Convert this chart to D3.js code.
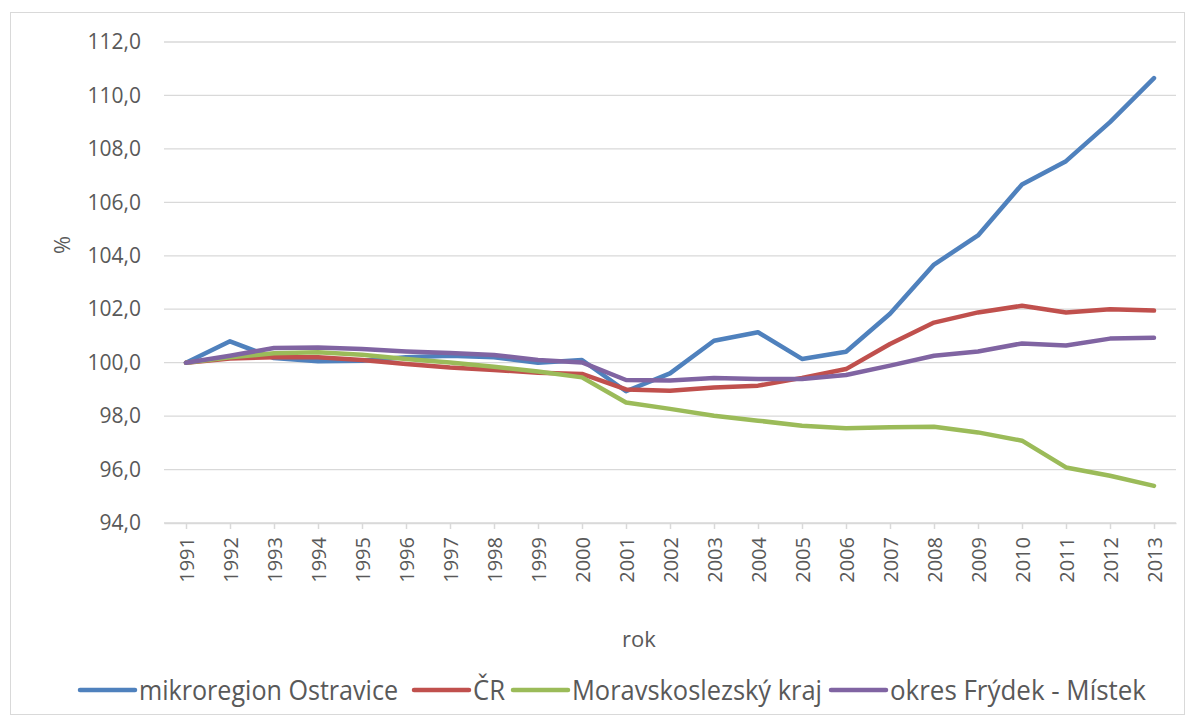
<!DOCTYPE html>
<html>
<head>
<meta charset="utf-8">
<script src="https://cdn.jsdelivr.net/npm/d3@7"></script>
<style>
  body { margin: 0; background: #fff; }
  text { font-family: "Open Sans", sans-serif; fill: #595959; }
</style>
</head>
<body>
<script>
// data
var years = ["1991","1992","1993","1994","1995","1996","1997","1998","1999","2000","2001","2002",
             "2003","2004","2005","2006","2007","2008","2009","2010","2011","2012","2013"];
var ostravice = [100.0,100.8,100.17,100.05,100.07,100.2,100.26,100.2,100.0,100.1,98.93,99.6,
                 100.82,101.14,100.14,100.41,101.83,103.67,104.76,106.67,107.54,109.0,110.65];
var cr = [100.0,100.16,100.2,100.2,100.1,99.95,99.82,99.73,99.62,99.58,99.0,98.95,
          99.07,99.14,99.43,99.76,100.7,101.5,101.88,102.13,101.88,102.0,101.95];
var msk = [100.0,100.2,100.35,100.39,100.3,100.14,100.01,99.85,99.67,99.45,98.51,98.27,
           98.01,97.83,97.64,97.55,97.58,97.6,97.39,97.08,96.08,95.77,95.39];
var frydek = [100.0,100.26,100.55,100.57,100.51,100.42,100.36,100.29,100.1,100.01,99.35,99.33,
              99.43,99.39,99.39,99.54,99.89,100.26,100.42,100.72,100.64,100.9,100.93];
var yTicks = [94,96,98,100,102,104,106,108,110,112];

var seriesNames = ["mikroregion Ostravice","ČR","Moravskoslezský kraj","okres Frýdek - Místek"];
var colors = ["#4F81BD","#C0504D","#9BBB59","#8064A2"];
var allSeries = [ostravice, cr, msk, frydek];

var W = 1194, H = 724;
var margin = {top: 42, left: 164},
    width = 1176 - margin.left,
    height = 523 - margin.top;

var svg = d3.select("body").append("svg")
    .attr("width", W)
    .attr("height", H);

// outer chart border
svg.append("rect")
    .attr("x", 10.5).attr("y", 12.5)
    .attr("width", 1174).attr("height", 702)
    .attr("fill", "none").attr("stroke", "#D9D9D9");

var g = svg.append("g")
    .attr("transform", "translate(" + margin.left + "," + margin.top + ")");

var x = d3.scalePoint().domain(years).range([0, width]).padding(0.5);
var y = d3.scaleLinear().domain([94, 112]).range([height, 0]);

// gridlines
g.selectAll(".grid")
    .data(yTicks)
  .enter().append("line")
    .attr("x1", 0).attr("x2", width)
    .attr("y1", function(d) { return y(d); })
    .attr("y2", function(d) { return y(d); })
    .attr("stroke", "#D9D9D9")
    .attr("stroke-width", 1.3);

// y axis labels
var yAxis = d3.axisLeft(y).tickValues(yTicks)
    .tickFormat(function(d) { return d3.format(".1f")(d).replace(".", ","); })
    .tickSize(0).tickPadding(23);
var ya = g.append("g").call(yAxis);
ya.select(".domain").remove();
ya.selectAll("text").style("font-size", "21px").attr("fill", "#595959");

// x axis
var xAxis = d3.axisBottom(x).tickSize(6).tickSizeOuter(0);
var xa = g.append("g")
    .attr("transform", "translate(0," + height + ")")
    .call(xAxis);
xa.select(".domain").attr("stroke", "#D9D9D9").attr("stroke-width", 1.5);
xa.selectAll(".tick line").attr("stroke", "#D9D9D9").attr("stroke-width", 1.5);
xa.selectAll("text")
    .style("font-size", "20px")
    .attr("fill", "#595959")
    .attr("transform", "rotate(-90)")
    .attr("text-anchor", "end")
    .attr("x", -14)
    .attr("y", 0)
    .attr("dy", "0.35em");

// axis titles
svg.append("text")
    .attr("transform", "translate(70,245) rotate(-90)")
    .attr("text-anchor", "middle")
    .style("font-size", "22px")
    .text("%");
svg.append("text")
    .attr("x", 639).attr("y", 647)
    .attr("text-anchor", "middle")
    .style("font-size", "22px")
    .text("rok");

// lines
var line = d3.line()
    .x(function(d, i) { return x(years[i]); })
    .y(function(d) { return y(d); });

allSeries.forEach(function(s, i) {
    g.append("path")
        .datum(s)
        .attr("fill", "none")
        .attr("stroke", colors[i])
        .attr("stroke-width", 4.5)
        .attr("stroke-linejoin", "round")
        .attr("stroke-linecap", "round")
        .attr("d", line);
});

// legend
var legendX = [80, 414, 513, 831];
var legendW = [259, 32, 250, 256];
var leg = svg.append("g").attr("transform", "translate(0,690)");
seriesNames.forEach(function(name, i) {
    leg.append("line")
        .attr("x1", legendX[i]).attr("x2", legendX[i] + 55)
        .attr("y1", 0).attr("y2", 0)
        .attr("stroke", colors[i])
        .attr("stroke-width", 4.5)
        .attr("stroke-linecap", "round");
    leg.append("text")
        .attr("x", legendX[i] + 59)
        .attr("y", 0)
        .attr("dy", "0.36em")
        .attr("textLength", legendW[i])
        .attr("lengthAdjust", "spacingAndGlyphs")
        .style("font-size", "28px")
        .text(name);
});
</script>
</body>
</html>
